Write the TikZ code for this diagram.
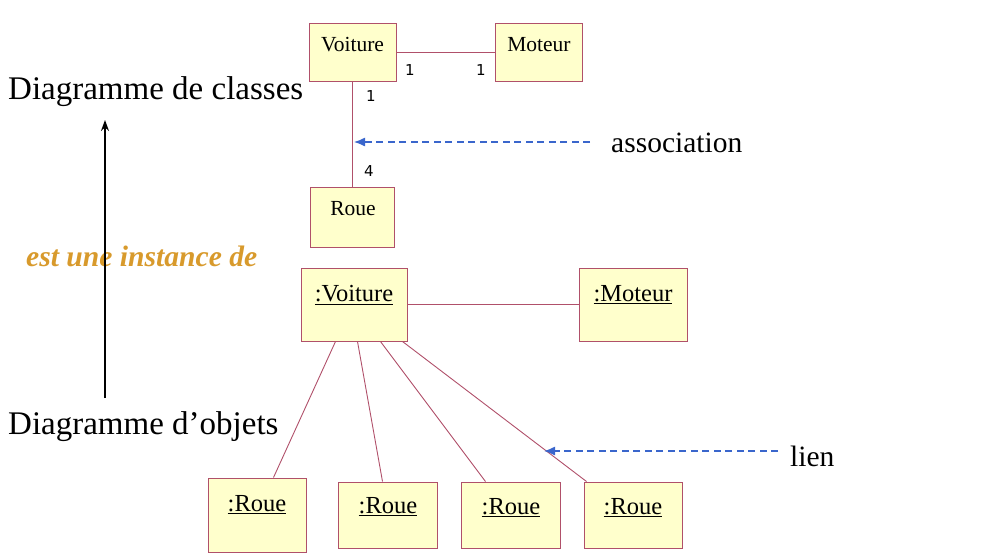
\documentclass[tikz,border=0pt]{standalone}
\usepackage{fontspec}
\setmainfont{Liberation Serif}
\newfontfamily\digitfont{DejaVu Sans}
\usetikzlibrary{arrows.meta,calc}
\definecolor{boxfill}{HTML}{FFFFCC}
\definecolor{boxline}{HTML}{B0506A}
\definecolor{dashblue}{HTML}{3A66CC}
\definecolor{orangetxt}{HTML}{D89A2C}
\tikzset{
  umlbox/.style={draw=boxline, fill=boxfill, line width=1pt, inner sep=0pt},
  clstxt/.style={font=\fontsize{21.5}{24}\selectfont, inner sep=0pt},
  objtxt/.style={font=\fontsize{24.5}{28}\selectfont, inner sep=0pt},
  multtxt/.style={font=\digitfont\fontsize{15}{17}\selectfont, inner sep=0pt},
  bigtxt/.style={font=\fontsize{33}{36}\selectfont, inner sep=0pt},
  midtxt/.style={font=\fontsize{29.5}{33}\selectfont, inner sep=0pt},
  assoc/.style={draw=boxline, line width=0.9pt},
  dasharr/.style={draw=dashblue, line width=1.3pt, dash pattern=on 7pt off 4.5pt, -{Latex[length=11pt,width=9pt]}},
}
\newcommand{\ul}[1]{\underline{#1}}
\begin{document}
\begin{tikzpicture}[x=1pt,y=-1pt]
\useasboundingbox (0,0) rectangle (1004,555);
% class diagram
\node[umlbox, minimum width=87pt, minimum height=58pt] (voit) at (352.5,52) {};
\node[clstxt] (voitT) at (352.5,45) {Voiture};
\node[umlbox, minimum width=87pt, minimum height=58pt] (mot) at (538.5,52) {};
\node[clstxt] (motT) at (539,45) {Moteur};
\node[umlbox, minimum width=84pt, minimum height=60pt] (roue) at (352.5,217) {};
\node[clstxt] (roueT) at (353,209) {Roue};
\draw[assoc] (voit.east) -- (mot.west);
\draw[assoc] (voit.south) -- (roue.north);
\node[multtxt] (m1) at (410,70) {1};
\node[multtxt] (m2) at (481,70) {1};
\node[multtxt] (m3) at (371,96) {1};
\node[multtxt] (m4) at (369,171) {4};
\node[midtxt, anchor=west] (assocT) at (611,143) {association};
\coordinate (aTip) at (354,142);
\draw[dasharr] ($(assocT.west)+(-21,-1)$) -- (aTip);
% side labels
\node[bigtxt, anchor=west] (dcl) at (8,92) {Diagramme de classes};
\node[bigtxt, anchor=west] (dob) at (8,427) {Diagramme d’objets};
\node[font=\bfseries\itshape\fontsize{29.6}{34}\selectfont, text=orangetxt, inner sep=0pt, anchor=west] (inst) at (26,256) {est une instance de};
\coordinate (arrBot) at (105,398);
\coordinate (arrTop) at (105,120);
\draw[line width=1.4pt, -{Stealth[length=11pt,width=8pt]}] (arrBot) -- (arrTop);
% object diagram
\node[umlbox, minimum width=106pt, minimum height=73pt] (ov) at (354,304.5) {};
\node[objtxt] (ovT) at (354,295) {\ul{:Voiture}};
\node[umlbox, minimum width=108pt, minimum height=73pt] (om) at (633,304.5) {};
\node[objtxt] (omT) at (633,295) {\ul{:Moteur}};
\draw[assoc] (ov.east) -- (om.west);
\node[umlbox, minimum width=98pt, minimum height=74pt] (r1) at (257,515) {};
\node[objtxt] (r1T) at (257,505) {\ul{:Roue}};
\node[umlbox, minimum width=99pt, minimum height=66pt] (r2) at (387.5,515) {};
\node[objtxt] (r2T) at (388,507) {\ul{:Roue}};
\node[umlbox, minimum width=99pt, minimum height=66pt] (r3) at (510.5,515) {};
\node[objtxt] (r3T) at (511,508) {\ul{:Roue}};
\node[umlbox, minimum width=98pt, minimum height=66pt] (r4) at (633,515) {};
\node[objtxt] (r4T) at (633,508) {\ul{:Roue}};
\draw[assoc] ($(ov.south west)+(35,0)$) -- ($(r1.north west)+(66,0)$);
\draw[assoc] ($(ov.south west)+(57,0)$) -- ($(r2.north west)+(45,0)$);
\draw[assoc] ($(ov.south west)+(80,0)$) -- ($(r3.north west)+(25,0)$);
\draw[assoc] ($(ov.south west)+(102,0)$) -- ($(r4.north west)+(3,0)$);
\node[midtxt, anchor=west] (lienT) at (790,456) {lien};
\coordinate (lTip) at (544,451);
\draw[dasharr] ($(lienT.west)+(-12,-5)$) -- (lTip);
\end{tikzpicture}
\end{document}
